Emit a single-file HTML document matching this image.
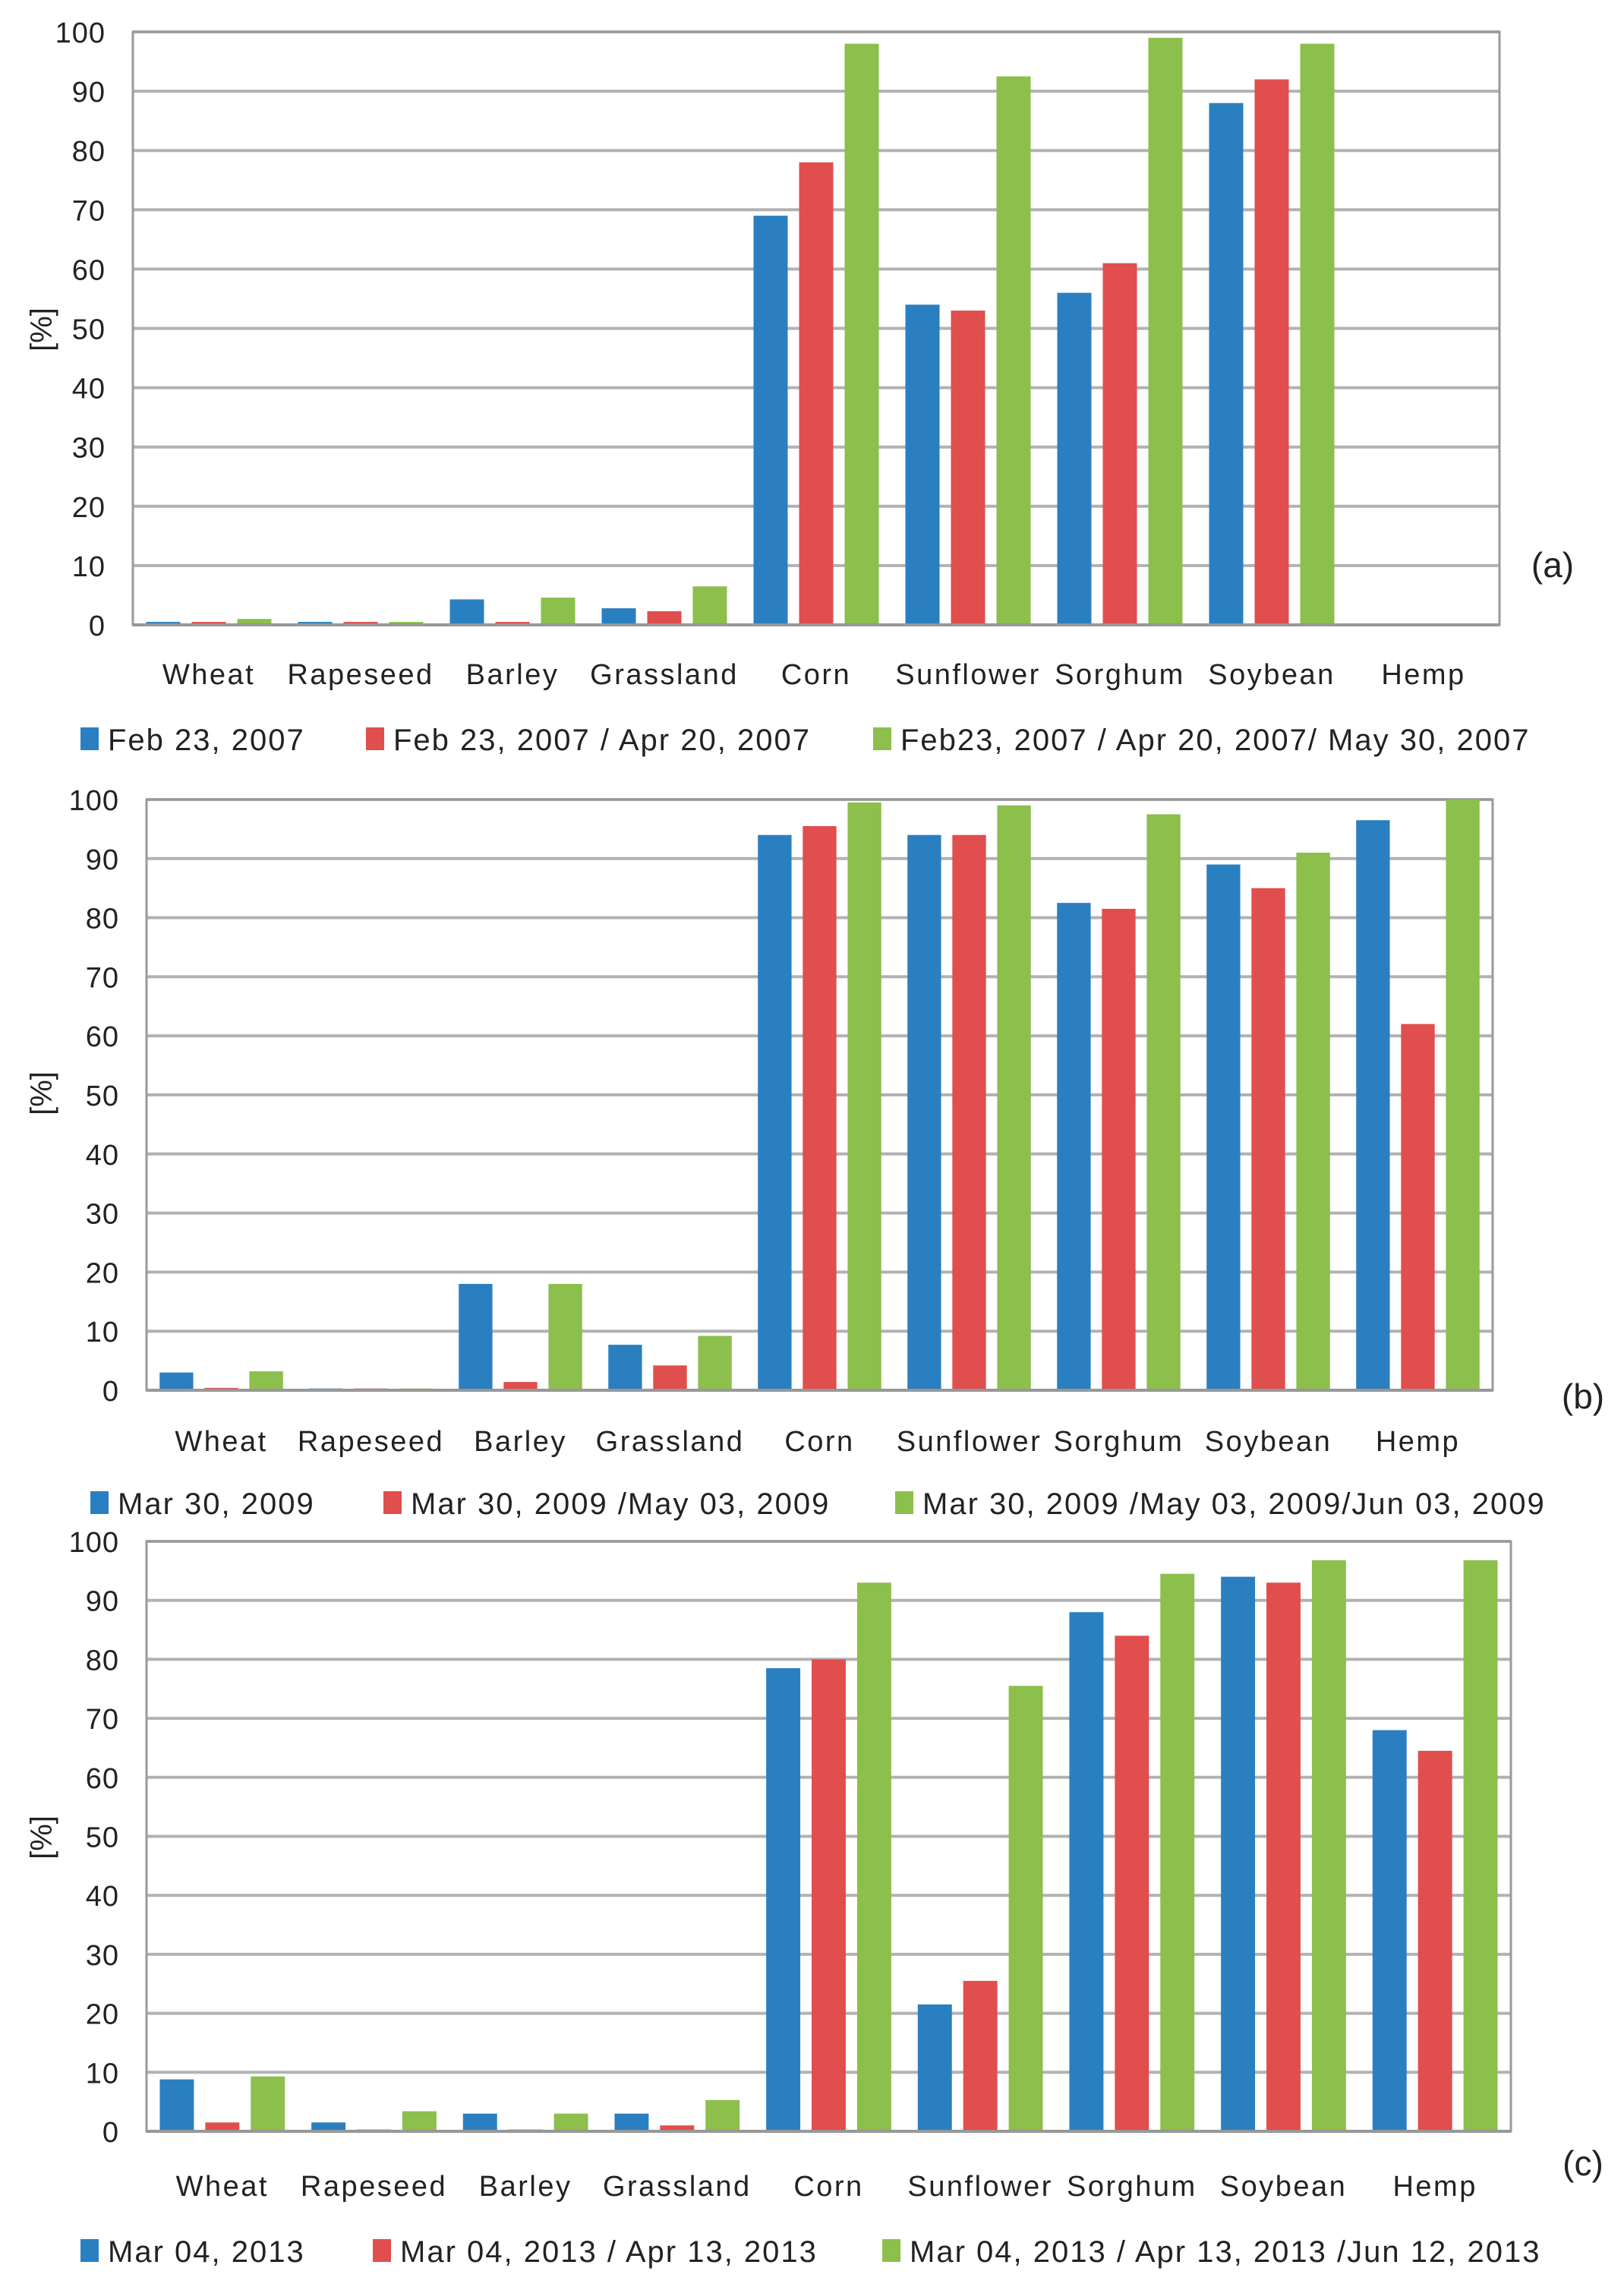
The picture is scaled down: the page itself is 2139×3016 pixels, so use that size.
<!DOCTYPE html>
<html><head><meta charset="utf-8"><style>
html,body{margin:0;padding:0;background:#fff;}
svg{display:block;font-family:"Liberation Sans",sans-serif;}
</style></head><body>
<svg id="s" width="2139" height="3016" viewBox="0 0 2139 3016"></svg>
<script>
const categories=["Wheat","Rapeseed","Barley","Grassland","Corn","Sunflower","Sorghum","Soybean","Hemp"];
const yTicks=[0,10,20,30,40,50,60,70,80,90,100];
const aBlue=[0.5,0.5,4.3,2.8,69,54,56,88,0];
const aRed=[0.5,0.5,0.5,2.3,78,53,61,92,0];
const aGreen=[1,0.5,4.6,6.5,98,92.5,99,98,0];
const bBlue=[3,0.3,18,7.7,94,94,82.5,89,96.5];
const bRed=[0.4,0.3,1.4,4.2,95.5,94,81.5,85,62];
const bGreen=[3.2,0.3,18,9.2,99.5,99,97.5,91,100];
const cBlue=[8.8,1.5,3,3,78.5,21.5,88,94,68];
const cRed=[1.5,0.3,0.3,1,80,25.5,84,93,64.5];
const cGreen=[9.3,3.4,3,5.3,93,75.5,94.5,96.8,96.8];
const aLegend=["Feb 23, 2007","Feb 23, 2007 / Apr 20, 2007","Feb23, 2007 / Apr 20, 2007/ May 30, 2007"];
const bLegend=["Mar 30, 2009","Mar 30, 2009 /May 03, 2009","Mar 30, 2009 /May 03, 2009/Jun 03, 2009"];
const cLegend=["Mar 04, 2013","Mar 04, 2013 / Apr 13, 2013","Mar 04, 2013 / Apr 13, 2013 /Jun 12, 2013"];
const colors=["#2a7fc1","#e04e4e","#8cbf4b"];
const NS="http://www.w3.org/2000/svg";
const svg=document.getElementById('s');
function mk(tag,attrs,parent,text){const e=document.createElementNS(NS,tag);for(const k in attrs)e.setAttribute(k,attrs[k]);if(text!==undefined)e.textContent=text;(parent||svg).appendChild(e);return e;}
const panels=[
 {id:"a",L:175,R:1975,T:42,B:823,series:[aBlue,aRed,aGreen],legend:aLegend,lx:[106,482,1150],ly:973,lab:"(a)",labx:2045,laby:745,catY:888,yt:434},
 {id:"b",L:193,R:1966,T:1053,B:1831,series:[bBlue,bRed,bGreen],legend:bLegend,lx:[119,505,1179],ly:1979,lab:"(b)",labx:2085,laby:1840,catY:1898,yt:1440},
 {id:"c",L:193,R:1990,T:2030,B:2807,series:[cBlue,cRed,cGreen],legend:cLegend,lx:[106,491,1162],ly:2964,lab:"(c)",labx:2085,laby:2850,catY:2879,yt:2420}
];
panels.forEach(p=>{
 const g=mk('g',{});
 
 
 const y=v=>p.B-(v/100)*(p.B-p.T);
 const cw=(p.R-p.L)/categories.length;
 const bw=cw*0.225, gap=cw*0.075;
 yTicks.forEach(t=>{
  const ln=mk('line',{x1:p.L,x2:p.R,y1:y(t),y2:y(t),stroke:t===0?'#8e8e8e':'#b2b2b2','stroke-width':4},g);
  
  
  const tx=mk('text',{x:p.L-36,y:y(t)+14,'text-anchor':'end','font-size':38,fill:'#222','letter-spacing':1},g,String(t));
  
  
 });
 const fr=mk('rect',{x:p.L,y:p.T,width:p.R-p.L,height:p.B-p.T,fill:'none',stroke:'#9a9a9a','stroke-width':3},g);
 
 
 categories.forEach((c,i)=>{
  const cx=p.L+cw*(i+0.5);
  p.series.forEach((s,k)=>{
   const x=cx+(k-1)*(bw+gap)-bw/2;
   const r=mk('rect',{x:x,y:y(s[i]),width:bw,height:Math.max(0,p.B-y(s[i])-2),fill:colors[k]},g);
   
   
  });
  const t=mk('text',{x:cx,y:p.catY+13,'text-anchor':'middle','font-size':38,fill:'#222','letter-spacing':2.5},g,c);
  
  
 });
 const yt=mk('text',{x:0,y:0,'text-anchor':'middle','font-size':40,fill:'#222',transform:'translate(68,'+p.yt+') rotate(-90)'},g,'[%]');
 
 
 const lb=mk('text',{x:p.labx,y:p.laby+15,'text-anchor':'middle','font-size':46,fill:'#222'},g,p.lab);
 
 
 p.legend.forEach((l,k)=>{
  const lg=mk('g',{},g);
  
  
  mk('rect',{x:p.lx[k],y:p.ly-15,width:24,height:30,fill:colors[k]},lg);
  mk('text',{x:p.lx[k]+36,y:p.ly+15,'font-size':40,fill:'#222','letter-spacing':2},lg,l);
 });
});
</script>
</body></html>
